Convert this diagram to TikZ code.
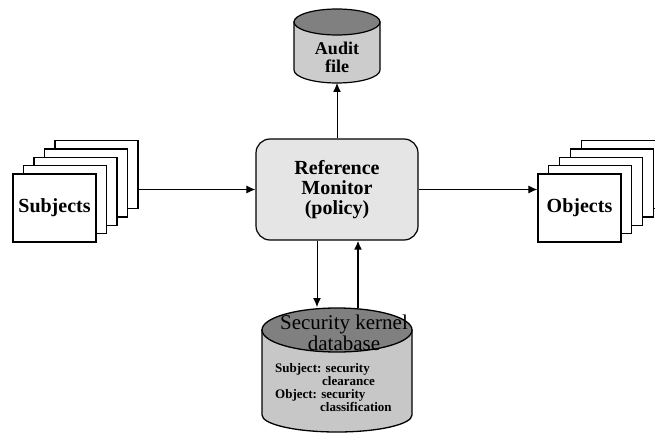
\documentclass[tikz,border=0pt]{standalone}
\usepackage{fontspec}
\setmainfont{Liberation Serif}
\usetikzlibrary{arrows.meta}
\begin{document}
\begin{tikzpicture}[x=1pt,y=1pt,
  page/.style={draw,line width=1.3pt,fill=white,minimum width=83pt,minimum height=68pt,inner sep=0pt},
  arr/.style={-{Latex[length=9pt,width=8pt]},line width=1pt},
  bigtext/.style={font=\bfseries\fontsize{20}{20}\selectfont,align=center},
  smalltext/.style={font=\bfseries\fontsize{13}{13.5}\selectfont,align=left,inner sep=0pt,anchor=north west}]
\useasboundingbox (0,0) rectangle (655,432);

% audit file
\filldraw[fill=black!20,line width=1.2pt] (294,410) -- (294,362) arc[start angle=180,end angle=360,x radius=43,y radius=13] -- (380,410) -- cycle;
\filldraw[fill=black!50,line width=1.2pt] (337,410) ellipse [x radius=43,y radius=13];
\node[bigtext,font=\bfseries\fontsize{18}{18}\selectfont] (audit) at (337,375) {Audit\\file};
\coordinate (auditbase) at (337,349);

% reference monitor
\node[draw,fill=black!10,rounded corners=14pt,line width=1.2pt,minimum width=162pt,minimum height=101pt,bigtext] (monitor) at (337,242.5) {Reference\\Monitor\\(policy)};

% subjects
\foreach \k in {4,3,2,1}
  \node[page] (subj\k) at (54.5+10.5*\k,224+8.3*\k) {};
\node[page,bigtext] (subjects) at (54.5,224) {Subjects};

% objects
\foreach \k in {4,3,2,1}
  \node[page] (obj\k) at (579.5+10.8*\k,224+8.3*\k) {};
\node[page,bigtext] (objects) at (579.5,224) {Objects};

% security kernel database
\filldraw[fill=black!22,line width=1.3pt] (262,102) -- (262,17) arc[start angle=180,end angle=360,x radius=75,y radius=17] -- (412,102) -- cycle;
\filldraw[fill=black!50,line width=1.3pt] (337,102) ellipse [x radius=75,y radius=22];
\node[font=\fontsize{21}{21}\selectfont,align=center] (kernel) at (344,99) {Security kernel\\database};
\node[smalltext] (subjattr) at (275,69) {Subject: security\\\hspace*{47pt}clearance};
\node[smalltext] (objattr) at (275,43) {Object: security\\\hspace*{45pt}classification};
\coordinate (kin) at (317,125);
\coordinate (kout) at (358,124);

% connectors
\draw[arr] (subj4.east |- monitor.west) -- (monitor.west);
\draw[arr] (monitor.east) -- (monitor.east -| objects.west);
\draw[arr] (monitor.north) -- (auditbase);
\draw[arr] (kin |- monitor.south) -- (kin);
\draw[arr,line width=1.8pt] (kout) -- (kout |- monitor.south);
\end{tikzpicture}
\end{document}
